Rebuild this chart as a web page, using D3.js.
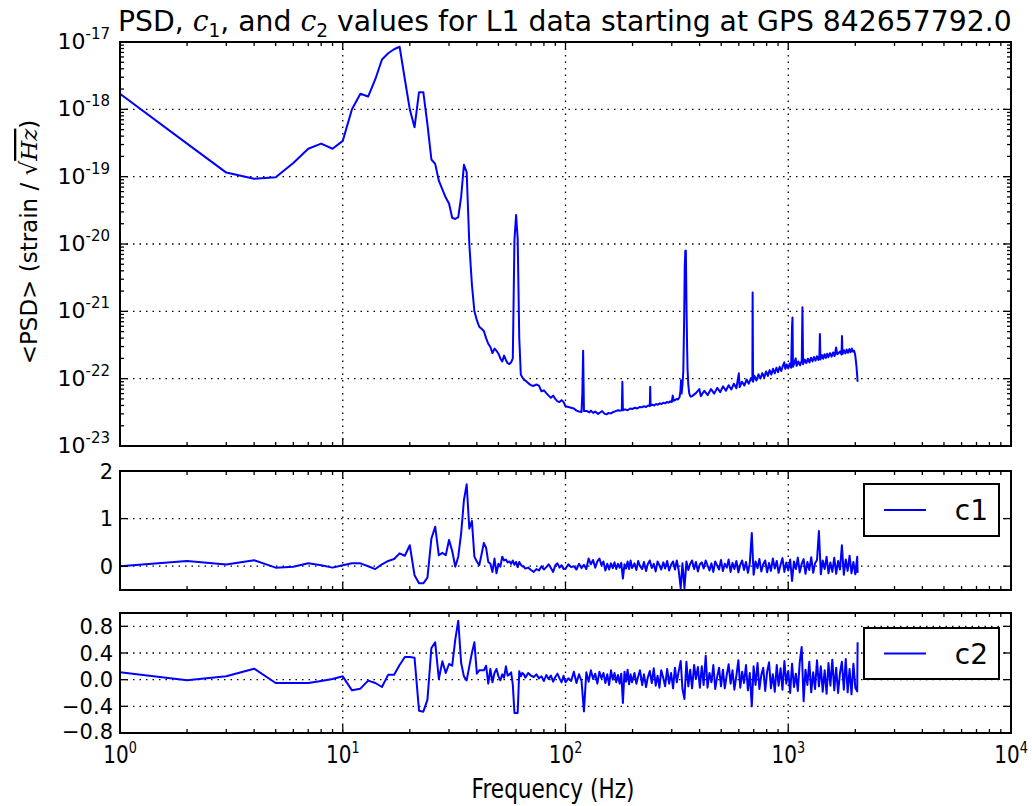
<!DOCTYPE html>
<html><head><meta charset="utf-8">
<script src="https://cdn.jsdelivr.net/npm/d3@7"></script>
<style>body{margin:0;background:#fff;} text{font-family:"DejaVu Sans",sans-serif;fill:#000;}</style>
</head><body><svg id="c" width="1032" height="806"></svg>
<script>
// ---------------- data ----------------
const titleParts = ["PSD, ", "c", "1", ", and ", "c", "2", " values for L1 data starting at GPS 842657792.0"];
const xTickExps = [0, 1, 2, 3, 4];
const psdTickExps = [-17, -18, -19, -20, -21, -22, -23];
const c1Ticks = [0, 1, 2];
const c2Ticks = [-0.8, -0.4, 0.0, 0.4, 0.8];
const seriesNames = ["c1", "c2"];

const psdFreq = [1,2,3,4,5,6,7,8,9,10,11,12,13,14,15,16,17,18,19,20,21,22,23,24,25,26,27,28,29,30,31,32,33,34,35,36,37,38,39,40,41,42,43,44,45,46,47,48,49,50,51,52,53,54,55,56,57,58,59,60,61,62,63,64,65,66,68,70,72,74,76,78,80,82,84,86,88,90,92,94,96,98,100,103,106,109,112,115,118,119,120,121,125,128,130,133,136,140,143,146,150,153,156,160,164,168,172,176,179,180,181,185,190,195,200,205,210,215,220,225,230,235,239,240,241,245,250,255,260,265,270,275,280,285,290,295,300,303,306,310,315,320,325,328,330,332,335,338,341,343,345,347,349,351,353,356,359,362,366,370,385,399,405,420,435,450,465,480,495,510,525,540,555,570,585,600,605,620,635,650,665,680,690,692,695,705,720,735,750,765,780,795,810,825,840,855,870,885,900,915,930,945,960,970,985,1000,1015,1030,1040,1045,1050,1065,1080,1090,1110,1130,1150,1158,1166,1185,1205,1225,1245,1265,1285,1305,1325,1345,1365,1380,1387,1395,1415,1435,1455,1475,1495,1515,1540,1565,1590,1615,1640,1660,1685,1710,1735,1743,1752,1780,1805,1830,1855,1880,1905,1930,1955,1975,1995,2010,2025,2040,2048];
const psdVal = [1.7e-18,3.1e-19,1.15e-19,9.3e-20,9.8e-20,1.6e-19,2.6e-19,3.1e-19,2.6e-19,3.4e-19,1.0e-18,1.7e-18,1.55e-18,2.8e-18,5.5e-18,6.8e-18,7.8e-18,8.5e-18,2.8e-18,1.0e-18,5.4e-19,1.8e-18,1.8e-18,6.0e-19,1.8e-19,1.55e-19,8.7e-20,6.5e-20,4.9e-20,4.0e-20,2.45e-20,2.35e-20,2.5e-20,5.0e-20,1.5e-19,1.17e-19,1.0e-20,2.5e-21,1.0e-21,7.4e-22,5.9e-22,5.5e-22,5.1e-22,4.0e-22,3.3e-22,2.95e-22,2.4e-22,2.8e-22,2.6e-22,2.35e-22,2.0e-22,1.8e-22,2.2e-22,1.9e-22,1.7e-22,1.65e-22,1.75e-22,2.0e-22,1.15e-20,2.7e-20,1.2e-20,4.0e-22,1.15e-22,1.05e-22,9.6e-23,9.4e-23,8.6e-23,8.0e-23,7.8e-23,8.2e-23,7.9e-23,6.5e-23,6.7e-23,6.1e-23,5.6e-23,5.2e-23,5.6e-23,5.0e-23,4.6e-23,4.5e-23,4.8e-23,4.5e-23,3.9e-23,3.8e-23,3.7e-23,3.6e-23,3.35e-23,3.25e-23,3.2e-23,6.0e-23,2.6e-22,3.3e-23,3.3e-23,3.15e-23,3.35e-23,3.1e-23,3.25e-23,3.0e-23,3.15e-23,3.3e-23,3.0e-23,2.95e-23,3.1e-23,3.05e-23,3.2e-23,3.3e-23,3.4e-23,3.35e-23,3.4e-23,9.0e-23,3.4e-23,3.5e-23,3.4e-23,3.6e-23,3.55e-23,3.7e-23,3.6e-23,3.8e-23,3.75e-23,3.9e-23,3.8e-23,4.0e-23,3.9e-23,7.6e-23,4.0e-23,4.1e-23,4.0e-23,4.2e-23,4.1e-23,4.3e-23,4.2e-23,4.4e-23,4.3e-23,4.5e-23,4.4e-23,4.6e-23,4.5e-23,5.6e-23,4.7e-23,4.8e-23,5.0e-23,4.9e-23,5.3e-23,6.5e-23,9.5e-23,6.0e-23,8.0e-23,1.3e-22,8.0e-22,4.5e-21,7.9e-21,8.0e-21,1.5e-21,4.0e-22,1.4e-22,8.0e-23,6.2e-23,5.6e-23,5.4e-23,5.5e-23,6.1e-23,7.0e-23,5.5e-23,6.6e-23,5.7e-23,7.0e-23,6.0e-23,7.3e-23,6.3e-23,7.7e-23,6.6e-23,8.0e-23,6.9e-23,8.4e-23,7.2e-23,1.2e-22,7.5e-23,9.0e-23,7.9e-23,9.7e-23,8.4e-23,1.02e-22,9.4e-23,1.9e-21,9.0e-23,1.1e-22,9.4e-23,1.16e-22,1.0e-22,1.21e-22,1.04e-22,1.28e-22,1.1e-22,1.34e-22,1.15e-22,1.4e-22,1.2e-22,1.45e-22,1.25e-22,1.5e-22,1.3e-22,1.53e-22,1.75e-22,1.4e-22,1.62e-22,1.42e-22,1.68e-22,1.45e-22,5.9e-22,8.1e-22,1.5e-22,1.72e-22,2.0e-22,1.55e-22,1.8e-22,1.58e-22,1.86e-22,1.15e-21,1.64e-22,1.93e-22,1.7e-22,1.98e-22,1.74e-22,2.05e-22,1.8e-22,2.1e-22,1.85e-22,2.15e-22,1.9e-22,2.2e-22,4.6e-22,1.93e-22,2.25e-22,1.98e-22,2.3e-22,2.03e-22,2.35e-22,2.08e-22,2.4e-22,2.12e-22,2.45e-22,2.17e-22,2.9e-22,2.3e-22,2.4e-22,2.55e-22,2.28e-22,4.3e-22,2.32e-22,2.65e-22,2.37e-22,2.7e-22,2.42e-22,2.75e-22,2.47e-22,2.8e-22,2.52e-22,2.6e-22,2.3e-22,1.9e-22,1.5e-22,1.1e-22,9.0e-23];

const coefFreq = [1,2,3,4,5,6,7,8,9,10,11,12,13,14,15,16,17,18,19,20,21,22,23,24,25,26,27,28,29,30,31,32,33,34,35,36,37,38,39,40,41,42,43,44,45,46,47,48,49,50,51,52,53,54,55,56,57,58,59,60,61,62,63,64,65,66,68,70,72,74,76,78,80,82,84,86,88,90,92,94,96,98,100,103,106,109,112,115,118,121,124,127,130,133,136,139,142,145,148,151,154,157,160,163,166,169,172,175,178,181,184,187,190,193,196,199,204,208,212,216,221,225,230,234,239,244,249,254,259,264,269,275,280,286,292,298,304,310,316,322,329,335,342,349,356,363,370,378,385,393,401,409,417,426,434,443,452,461,470,480,489,499,509,519,530,540,551,562,573,585,597,609,621,633,646,659,672,686,699,713,728,742,757,772,788,804,820,836,853,870,888,905,924,942,961,980,1000,1020,1040,1061,1082,1104,1126,1149,1172,1195,1219,1243,1268,1294,1319,1346,1373,1400,1428,1457,1486,1516,1546,1577,1609,1641,1674,1707,1741,1776,1812,1848,1885,1923,1961,2000,2040,2048];
const c1Val = [0.0,0.11,0.035,0.125,-0.03,-0.01,0.06,0.02,-0.03,0.02,0.06,0.06,0.0,-0.06,0.04,0.11,0.15,0.27,0.22,0.44,-0.19,-0.36,-0.36,-0.24,0.58,0.83,0.23,0.28,0.23,0.55,0.32,-0.01,0.2,0.69,1.39,1.72,0.79,0.95,0.2,0.1,0.02,0.25,0.49,0.39,0.09,0.05,-0.12,0.16,-0.15,0.05,-0.01,0.2,0.12,0.14,0.08,0.1,0.05,0.12,0.03,0.09,-0.02,0.09,0.03,0.0,-0.01,-0.05,-0.03,-0.08,-0.12,-0.06,-0.09,0.0,-0.07,-0.02,0.04,-0.04,-0.12,0.02,0.06,-0.03,0.02,-0.06,-0.05,0.04,-0.02,0.0,-0.07,0.05,-0.04,0.03,-0.06,0.16,0.04,0.13,-0.03,0.1,0.16,0.02,0.1,-0.09,0.05,-0.07,0.06,-0.04,0.08,-0.06,0.05,-0.03,0.07,-0.26,0.04,-0.05,0.1,-0.06,0.12,-0.04,
0.06,-0.08,0.11,0.0,-0.06,0.09,-0.1,0.04,0.12,-0.04,0.05,-0.11,0.1,0.02,-0.07,0.08,-0.05,0.11,-0.09,0.03,0.1,-0.07,0.12,-0.08,-0.46,0.06,-0.46,0.1,-0.08,0.05,0.12,-0.06,0.09,-0.11,0.04,
0.08,-0.05,0.12,0.02,-0.09,0.06,-0.12,0.1,0.01,-0.07,0.13,-0.1,0.05,-0.03,0.14,-0.12,0.07,-0.06,0.11,-0.13,0.03,0.12,-0.08,0.09,-0.14,0.06,0.70,-0.18,0.1,-0.04,0.15,-0.11,0.04,0.12,-0.13,
0.07,-0.1,0.16,-0.05,0.11,-0.14,0.03,0.17,-0.12,0.08,-0.09,0.14,-0.31,0.1,-0.06,0.18,-0.13,0.05,0.15,-0.16,0.09,-0.08,0.19,-0.14,0.06,0.13,0.74,-0.17,0.12,-0.06,0.2,-0.15,0.08,-0.12,0.18,
-0.16,0.11,-0.07,0.44,-0.18,0.14,-0.1,0.22,-0.15,0.09,-0.17,0.2,-0.14];
const c2Val = [0.11,-0.01,0.05,0.165,-0.05,-0.05,-0.05,-0.02,0.01,0.05,-0.16,-0.135,-0.015,-0.05,-0.11,0.075,0.075,0.22,0.34,0.34,0.33,-0.465,-0.48,-0.3,0.475,0.56,0.01,0.275,0.1,0.235,0.21,0.6,0.885,0.25,0.05,-0.01,0.2,0.4,0.56,0.09,0.14,0.14,0.14,0.21,-0.06,0.16,-0.04,0.1,0.16,0.05,-0.01,0.08,0.03,0.2,0.06,0.08,0.11,-0.075,-0.5,-0.5,-0.5,0.125,0.05,0.1,0.08,0.03,0.1,0.06,0.04,0.08,0.02,0.05,-0.02,0.07,0.01,0.06,-0.03,0.04,0.09,0.02,-0.04,0.06,-0.04,0.02,-0.02,0.12,-0.05,0.08,-0.02,-0.475,0.11,-0.03,0.14,0.01,0.09,-0.06,0.12,0.02,0.1,-0.05,0.08,-0.08,0.14,0.0,0.1,-0.04,0.07,-0.06,0.09,-0.35,0.12,-0.03,0.15,-0.07,0.08,-0.04,
0.1,-0.06,0.05,0.14,-0.08,0.08,-0.11,0.03,0.13,-0.05,0.17,-0.09,0.06,-0.12,0.14,0.02,-0.1,0.16,-0.06,0.1,-0.13,0.18,-0.04,0.12,0.28,-0.14,-0.29,0.27,-0.1,0.15,-0.13,0.22,0.01,0.19,-0.12,
0.2,-0.08,0.36,-0.12,0.1,-0.04,0.22,-0.14,0.05,0.18,-0.1,0.15,-0.13,0.08,0.23,-0.06,0.14,-0.15,0.06,0.29,-0.12,0.12,-0.05,0.22,-0.16,0.1,-0.4,0.2,-0.08,0.25,-0.14,0.07,0.18,-0.17,0.12,
0.26,-0.13,0.08,-0.18,0.22,-0.09,0.17,-0.15,0.28,-0.06,0.13,-0.2,0.24,-0.11,0.09,-0.17,0.26,0.49,-0.325,0.15,-0.08,0.27,-0.19,0.11,-0.14,0.29,-0.1,0.2,-0.18,0.14,-0.21,0.25,-0.09,0.3,-0.16,
0.18,-0.2,0.1,0.27,-0.15,0.31,-0.19,0.16,-0.22,0.24,-0.12,-0.175,0.56];

// ---------------- layout ----------------
const svg = d3.select("#c");
const BLUE = "#0000ff";
const X0 = 120, X1 = 1011;
const x = d3.scaleLog().domain([1, 1e4]).range([X0, X1]);
const panels = [
  {top: 42, bottom: 446, y: d3.scaleLog().domain([1e-23, 1e-17]).range([446, 42]), log: true,
   ticks: psdTickExps.map(e => Math.pow(10, e)), values: psdVal, freq: psdFreq},
  {top: 471, bottom: 590, y: d3.scaleLinear().domain([-0.5, 2]).range([590, 471]),
   ticks: c1Ticks, values: c1Val, freq: coefFreq, legend: seriesNames[0]},
  {top: 613, bottom: 733, y: d3.scaleLinear().domain([-0.8, 1.0]).range([733, 613]),
   ticks: c2Ticks, values: c2Val, freq: coefFreq, legend: seriesNames[1]}
];
const xMajor = xTickExps.map(e => Math.pow(10, e));
const xMinor = [];
xTickExps.slice(0, -1).forEach(e => { for (let k = 2; k <= 9; k++) xMinor.push(k * Math.pow(10, e)); });

panels.forEach((p, i) => {
  const g = svg.append("g");
  const cid = "clip" + i;
  svg.append("clipPath").attr("id", cid).append("rect")
    .attr("x", X0).attr("y", p.top).attr("width", X1 - X0).attr("height", p.bottom - p.top);

  // grid
  const grid = g.append("g").attr("stroke", "#000").attr("stroke-width", 1.3)
    .attr("stroke-dasharray", "1.5,5").attr("fill", "none");
  xMajor.forEach(v => {
    const xx = x(v); if (xx <= X0 + 1 || xx >= X1 - 1) return;
    grid.append("line").attr("x1", xx).attr("x2", xx).attr("y1", p.top).attr("y2", p.bottom);
  });
  p.ticks.forEach(v => {
    const yy = p.y(v); if (yy <= p.top + 1 || yy >= p.bottom - 1) return;
    grid.append("line").attr("x1", X0).attr("x2", X1).attr("y1", yy).attr("y2", yy);
  });

  // data line
  const pts = p.freq.map((f, j) => [f, p.values[j]]);
  g.append("path").datum(pts).attr("clip-path", `url(#${cid})`)
    .attr("fill", "none").attr("stroke", BLUE).attr("stroke-width", 2).attr("stroke-linejoin", "round")
    .attr("d", d3.line().x(d => x(d[0])).y(d => p.y(d[1])));

  // ticks (inward, all sides)
  const tk = g.append("g").attr("stroke", "#000").attr("stroke-width", 1.3);
  const addX = (vals, len) => vals.forEach(v => {
    const xx = x(v);
    tk.append("line").attr("x1", xx).attr("x2", xx).attr("y1", p.bottom).attr("y2", p.bottom - len);
    tk.append("line").attr("x1", xx).attr("x2", xx).attr("y1", p.top).attr("y2", p.top + len);
  });
  addX(xMajor, 8); addX(xMinor, 4);
  const addY = (vals, len) => vals.forEach(v => {
    const yy = p.y(v);
    tk.append("line").attr("y1", yy).attr("y2", yy).attr("x1", X0).attr("x2", X0 + len);
    tk.append("line").attr("y1", yy).attr("y2", yy).attr("x1", X1).attr("x2", X1 - len);
  });
  addY(p.ticks, 8);
  if (p.log) {
    const mn = [];
    psdTickExps.slice(1).forEach(e => { for (let k = 2; k <= 9; k++) mn.push(k * Math.pow(10, e)); });
    addY(mn, 4);
  }

  // spines
  g.append("rect").attr("x", X0).attr("y", p.top).attr("width", X1 - X0).attr("height", p.bottom - p.top)
    .attr("fill", "none").attr("stroke", "#000").attr("stroke-width", 2);

  // y tick labels
  if (p.log) {
    psdTickExps.forEach(e => {
      const yy = p.y(Math.pow(10, e));
      const t = g.append("text").attr("x", 110).attr("y", yy + 7).attr("text-anchor", "end").attr("font-size", 22);
      t.append("tspan").text("10");
      t.append("tspan").attr("dy", -10).attr("font-size", 15).text("-" + Math.abs(e));
    });
  } else {
    p.ticks.forEach(v => {
      const yy = p.y(v);
      const s = (i === 2 ? d3.format(".1f")(v) : String(v)).replace("-", "\u2212");
      const lift = (i === 2 && v === c2Ticks[0]) ? 2 : 0;
      g.append("text").attr("x", 113).attr("y", yy + 7.5 - lift).attr("text-anchor", "end").attr("font-size", 21).text(s);
    });
  }

  // legend
  if (p.legend) {
    const lx = 864, ly = p.top + (i === 1 ? 13 : 15), lw = 135, lh = (i === 1 ? 52 : 51);
    g.append("rect").attr("x", lx).attr("y", ly).attr("width", lw).attr("height", lh)
      .attr("fill", "#fff").attr("stroke", "#000").attr("stroke-width", 2);
    g.append("line").attr("x1", lx + 20).attr("x2", lx + 62).attr("y1", ly + lh / 2).attr("y2", ly + lh / 2)
      .attr("stroke", BLUE).attr("stroke-width", 2);
    g.append("text").attr("x", lx + 124).attr("y", ly + lh / 2 + 10).attr("text-anchor", "end")
      .attr("font-size", 28).text(p.legend);
  }
});

// x tick labels (bottom panel only)
xTickExps.forEach(e => {
  const t = svg.append("text").attr("text-anchor", "middle").attr("font-size", 25)
    .attr("transform", `translate(${x(Math.pow(10, e))},763) scale(0.8,1)`);
  t.append("tspan").text("10");
  t.append("tspan").attr("dy", -10).attr("font-size", 16).text(e);
});

// x label
svg.append("text").attr("text-anchor", "middle").attr("font-size", 27)
  .attr("transform", "translate(553,798) scale(0.8,1)").text("Frequency (Hz)");

// y label
const yl = svg.append("text").attr("text-anchor", "middle").attr("font-size", 23)
  .attr("transform", "translate(37,242) rotate(-90)");
yl.append("tspan").text("<PSD> (strain / \u221A");
yl.append("tspan").attr("font-family", "DejaVu Serif").attr("font-style", "italic")
  .style("text-decoration", "overline").text("Hz");
yl.append("tspan").text(")");

// title
const tt = svg.append("text").attr("font-size", 29).attr("x", 0).attr("y", 0);
titleParts.forEach((s, k) => {
  const ts = tt.append("tspan").text(s);
  if (s === "c") ts.attr("font-family", "DejaVu Serif").attr("font-style", "italic");
  if (k === 2 || k === 5) ts.attr("font-size", 19).attr("dy", 6);
  if (k === 3 || k === 6) ts.attr("dy", -6);
});
const tw = tt.node().getComputedTextLength();
tt.attr("transform", `translate(118,31) scale(${894 / tw},1)`);
</script></body></html>
